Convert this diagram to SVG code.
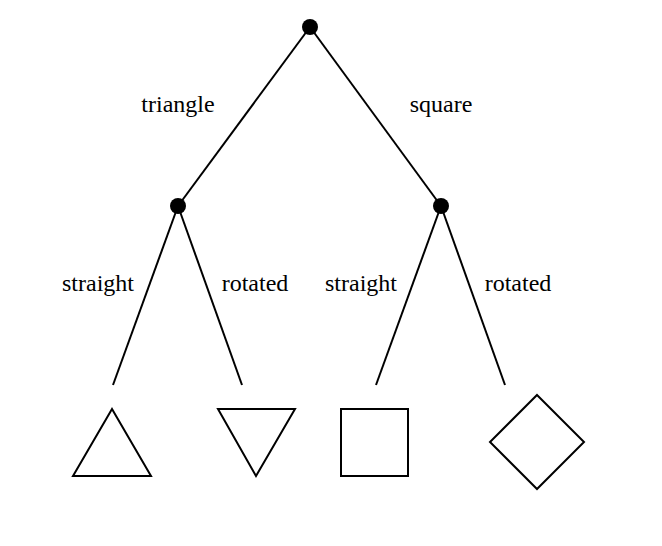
<svg xmlns="http://www.w3.org/2000/svg" width="662" height="546" viewBox="0 0 662 546">
<style>
.e{stroke:#000;stroke-width:2;fill:none}
.n{fill:#000}
.s{stroke:#000;stroke-width:2;fill:#fff;stroke-linejoin:miter}
.t{font-size:24px;fill:#000;text-anchor:middle}
</style>
<rect width="662" height="546" fill="#fff"/>
<g id="connectors">
<line class="e" x1="310" y1="27" x2="178" y2="206"/>
<line class="e" x1="310" y1="27" x2="441" y2="206"/>
<line class="e" x1="178" y1="206" x2="113" y2="385"/>
<line class="e" x1="178" y1="206" x2="242" y2="385"/>
<line class="e" x1="441" y1="206" x2="376" y2="385"/>
<line class="e" x1="441" y1="206" x2="505" y2="385"/>
</g>
<g id="labels" font-family="'Liberation Serif', 'Times New Roman', serif">
<text class="t" x="178" y="112">triangle</text>
<text class="t" x="441" y="112">square</text>
<text class="t" x="98" y="291">straight</text>
<text class="t" x="255" y="291">rotated</text>
<text class="t" x="361" y="291">straight</text>
<text class="t" x="518" y="291">rotated</text>
</g>
<g id="root"><circle class="n" cx="310" cy="27" r="8"/></g>
<g id="tri"><circle class="n" cx="178" cy="206" r="8"/></g>
<g id="sq"><circle class="n" cx="441" cy="206" r="8"/></g>
<g id="tri-straight"><polygon class="s" points="112,409 73,476 151,476"/></g>
<g id="tri-rotated"><polygon class="s" points="218,409 295,409 256,476"/></g>
<g id="sq-straight"><rect class="s" x="341" y="409" width="67" height="67"/></g>
<g id="sq-rotated"><polygon class="s" points="537,395 584,442 537,489 490,442"/></g>
</svg>
